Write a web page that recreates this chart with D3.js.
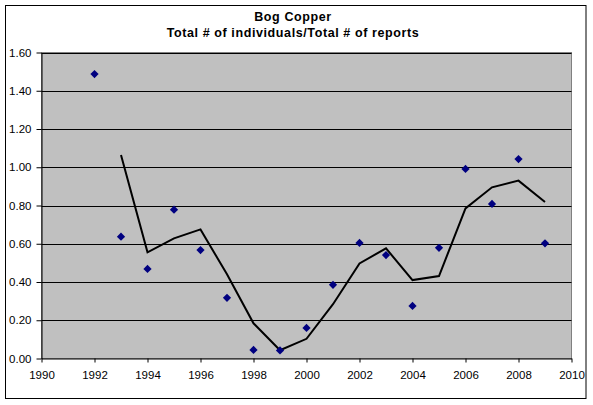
<!DOCTYPE html>
<html>
<head>
<meta charset="utf-8">
<script src="https://cdn.jsdelivr.net/npm/d3@7"></script>
<style>
  body { margin: 0; background: #fff; }
  text { font-family: Arial, "Liberation Sans", sans-serif; fill: #000; }
</style>
</head>
<body>
<div id="root"></div>
<script>
// yearly values
const years = [1992, 1993, 1994, 1995, 1996, 1997, 1998, 1999, 2000,
  2001, 2002, 2003, 2004, 2005, 2006, 2007, 2008, 2009];
const ratios = [1.487, 0.637, 0.468, 0.778, 0.567, 0.317, 0.045, 0.042, 0.160,
  0.385, 0.604, 0.541, 0.275, 0.579, 0.991, 0.808, 1.043, 0.602];

// trend line (starts in 1993)
const trendYears = [1993, 1994, 1995, 1996, 1997, 1998, 1999, 2000, 2001,
  2002, 2003, 2004, 2005, 2006, 2007, 2008, 2009];
const trendValues = [1.064, 0.555, 0.628, 0.675, 0.440, 0.184, 0.043, 0.103, 0.284,
  0.497, 0.576, 0.410, 0.431, 0.785, 0.895, 0.930, 0.818];

const xTicks = [1990, 1992, 1994, 1996, 1998, 2000, 2002, 2004, 2006, 2008, 2010];
const yTicks = [0, 0.2, 0.4, 0.6, 0.8, 1.0, 1.2, 1.4, 1.6];
const titleLines = ['Bog Copper', 'Total # of individuals/Total # of reports'];

const width = 593;
const height = 405;

// plot area inside the chart frame
const plot = { left: 41.5, top: 52.5, right: 571.5, bottom: 358.5 };

const svg = d3.select('#root')
  .append('svg')
  .attr('width', width)
  .attr('height', height);

// outer chart frame
svg.append('rect')
  .attr('x', 5.5)
  .attr('y', 5.5)
  .attr('width', 580.5)
  .attr('height', 393)
  .attr('fill', '#fff')
  .attr('stroke', '#000')
  .attr('stroke-width', 1);

const x = d3.scaleLinear().domain([1990, 2010]).range([plot.left, plot.right]);
const y = d3.scaleLinear().domain([0, 1.6]).range([plot.bottom, plot.top]);

// gray plot background
svg.append('rect')
  .attr('x', plot.left)
  .attr('y', plot.top)
  .attr('width', plot.right - plot.left)
  .attr('height', plot.bottom - plot.top)
  .attr('fill', '#c0c0c0')
  .attr('stroke', '#808080')
  .attr('stroke-width', 1);

// horizontal gridlines
svg.append('g')
  .selectAll('line')
  .data(yTicks.filter(d => d > 0))
  .enter()
  .append('line')
  .attr('x1', plot.left)
  .attr('x2', plot.right)
  .attr('y1', d => Math.round(y(d)) + 0.5)
  .attr('y2', d => Math.round(y(d)) + 0.5)
  .attr('stroke', '#000')
  .attr('stroke-width', 1);

// axes
const xAxis = d3.axisBottom(x)
  .tickValues(xTicks)
  .tickFormat(d3.format('d'))
  .tickSizeInner(4)
  .tickSizeOuter(0)
  .tickPadding(8);
const gx = svg.append('g')
  .attr('transform', `translate(0 ${plot.bottom})`)
  .call(xAxis);

const yAxis = d3.axisLeft(y)
  .tickValues(yTicks)
  .tickFormat(d3.format('.2f'))
  .tickSizeInner(5)
  .tickSizeOuter(0)
  .tickPadding(5);
const gy = svg.append('g')
  .attr('transform', `translate(${plot.left} 0)`)
  .call(yAxis);

[gx, gy].forEach(g => {
  g.selectAll('path, line').attr('stroke', '#000');
  g.selectAll('text')
    .style('font-size', '11.5px')
    .style('font-family', 'Arial, "Liberation Sans", sans-serif')
    .attr('fill', '#000');
});

// trend line
const line = d3.line()
  .x((d, i) => x(trendYears[i]))
  .y(d => y(d));
svg.append('path')
  .datum(trendValues)
  .attr('d', line)
  .attr('fill', 'none')
  .attr('stroke', '#000')
  .attr('stroke-width', 2)
  .attr('stroke-linejoin', 'miter');

// diamond markers
const diamond = d3.symbol().type(d3.symbolSquare).size(34);
svg.append('g')
  .selectAll('path')
  .data(ratios)
  .enter()
  .append('path')
  .attr('d', diamond)
  .attr('transform', (d, i) => `translate(${x(years[i])} ${y(d)}) rotate(45)`)
  .attr('fill', '#000080');

// title
svg.append('g')
  .selectAll('text')
  .data(titleLines)
  .enter()
  .append('text')
  .attr('x', 293)
  .attr('y', (d, i) => 21 + i * 16)
  .attr('text-anchor', 'middle')
  .style('font-size', '12.5px')
  .style('font-weight', 'bold')
  .style('letter-spacing', '0.6px')
  .text(d => d);
</script>
</body>
</html>
